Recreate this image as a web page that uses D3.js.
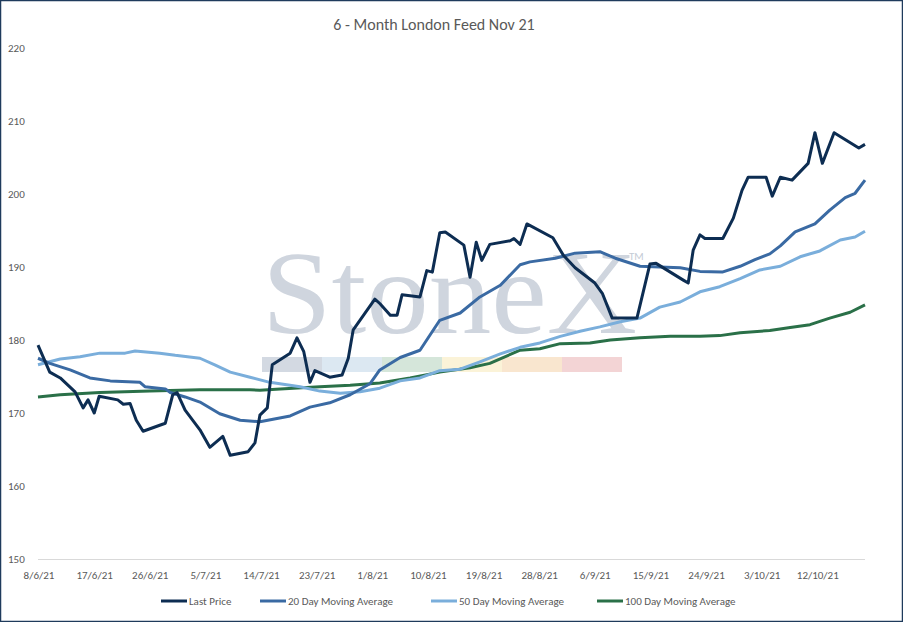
<!DOCTYPE html>
<html><head><meta charset="utf-8">
<script src="https://cdn.jsdelivr.net/npm/d3@7"></script>
<style>body{margin:0;background:#fff}text{font-family:Calibri,Carlito,"Open Sans",Arial,sans-serif}text.wm{font-family:"Liberation Serif","DejaVu Serif",serif}</style>
</head><body><svg id="c" width="903" height="622"></svg>
<script>
const startDate = "2021-06-08";
const xTickLabels = ["8/6/21","17/6/21","26/6/21","5/7/21","14/7/21","23/7/21","1/8/21","10/8/21","19/8/21","28/8/21","6/9/21","15/9/21","24/9/21","3/10/21","12/10/21"];
const yTicks = [150,160,170,180,190,200,210,220];
const lastDays = [0,1.9,3.6,6.0,7.3,8.1,9.1,9.9,12.9,13.8,14.9,15.9,17.0,20.6,21.8,22.5,23.8,26.2,27.8,29.9,31.1,34.0,35.1,35.9,37.1,37.9,40.8,41.9,43.0,44.0,44.8,47.2,49.2,50.2,51.0,54.5,55.3,57.0,58.1,58.9,61.8,62.9,63.8,65.0,65.9,68.9,69.9,70.9,71.8,73.1,76.4,77.0,78.0,79.1,83.3,85.0,86.9,90.1,91.3,92.9,96.9,99.0,100.0,104.4,105.2,106.0,107.1,107.9,110.8,112.5,113.9,114.9,117.8,118.8,120.1,122.0,124.6,125.7,126.9,128.8,132.8,133.8];
const lastPrice = [179.3,175.6,174.8,172.9,170.7,171.8,170.0,172.3,171.8,171.2,171.3,169.0,167.5,168.6,172.5,172.8,170.4,167.7,165.3,166.8,164.2,164.7,165.9,169.7,170.7,176.6,178.2,180.3,178.4,174.2,175.8,174.9,175.2,177.5,181.4,185.6,185.0,183.4,183.4,186.2,185.9,189.5,189.3,194.7,194.8,193.0,188.6,193.4,190.9,193.1,193.6,193.9,193.1,195.9,194.0,191.6,189.9,187.8,186.4,183.0,183.0,190.4,190.5,188.2,187.8,192.3,194.4,193.9,193.9,196.7,200.5,202.3,202.3,199.7,202.3,201.9,204.2,208.4,204.2,208.4,206.3,206.8];
const ma20Days = [0,1.9,5.2,8.4,11.7,16.5,17.3,20.6,21.4,23.8,26.2,29.4,32.7,35.9,40.8,44.0,47.2,50.5,53.7,55.3,58.6,61.8,65.0,68.3,71.5,74.8,78.0,79.6,83.7,86.9,90.9,93.4,97.4,100.6,103.9,107.1,110.7,113.6,116.0,118.4,120.1,122.5,125.7,128.1,130.6,132.2,133.8];
const ma20 = [177.5,176.8,175.9,174.8,174.4,174.2,173.6,173.3,172.8,172.2,171.5,169.9,169.0,168.8,169.6,170.8,171.4,172.5,174.0,175.9,177.6,178.6,182.7,183.7,185.9,187.5,190.3,190.7,191.2,191.9,192.1,191.2,190.1,190.0,189.9,189.4,189.3,190.1,191.0,191.8,192.9,194.8,195.9,197.8,199.5,200.1,201.9];
const ma50Days = [0,3.6,6.8,10.0,14.1,15.7,19.7,22.2,26.2,28.6,31.1,34.3,37.5,42.4,45.6,48.9,52.1,55.3,58.6,61.8,65.0,68.3,71.5,74.8,78.0,81.2,84.5,87.7,90.9,94.2,97.4,100.6,103.9,107.1,110.3,113.6,116.8,120.1,123.3,126.5,129.8,132.2,133.8];
const ma50 = [176.6,177.4,177.7,178.2,178.2,178.5,178.2,177.9,177.5,176.6,175.6,174.9,174.2,173.6,173.0,172.7,172.9,173.4,174.4,174.8,175.8,176.0,177.0,178.1,179.0,179.6,180.5,181.2,181.8,182.5,183.0,184.5,185.2,186.6,187.3,188.4,189.6,190.1,191.4,192.2,193.7,194.1,194.9];
const ma100Days = [0,3.6,10.0,18.1,26.2,34.3,35.9,39.2,45.6,50.5,55.3,60.2,65.0,69.9,73.1,78.0,81.2,84.5,89.3,92.6,97.4,102.3,107.1,110.3,113.6,118.4,121.7,124.9,128.1,131.4,133.8];
const ma100 = [172.2,172.5,172.8,173.0,173.2,173.2,173.1,173.3,173.6,173.8,174.1,174.8,175.6,176.2,176.8,178.6,178.8,179.5,179.6,180.0,180.3,180.5,180.5,180.6,181.0,181.3,181.7,182.1,183.0,183.8,184.8];
const seriesNames = ["Last Price","20 Day Moving Average","50 Day Moving Average","100 Day Moving Average"];
const colors = ["#0d2d52","#3a6aa3","#7aaedb","#2a7048"];

const svg = d3.select("#c");
const t0 = new Date(startDate+"T00:00:00");
const toDate = d => new Date(t0.getTime() + d*86400000);
const x = d3.scaleTime().domain([t0, toDate(133.8)]).range([38, 865]);
const y = d3.scaleLinear().domain([150,220]).range([559,48]);

svg.append("rect").attr("x",0.5).attr("y",0.5).attr("width",902).attr("height",621).attr("fill","#fff").attr("stroke","#1f3b5c").attr("stroke-width",1.5);
svg.append("text").attr("x",434).attr("y",30).attr("text-anchor","middle").attr("font-size",16).attr("fill","#595959").text("6 - Month London Feed Nov 21");

// watermark
svg.append("text").attr("class","wm").attr("x",262).attr("y",333).attr("font-size",118).attr("fill","#cfd5de").attr("textLength",375).attr("lengthAdjust","spacingAndGlyphs").text("StoneX");
svg.append("text").attr("x",629).attr("y",260).attr("font-size",11).attr("fill","#c5ccd6").text("TM");
const band = ["#d3d9e2","#dce8f2","#d5e6da","#fbf3d8","#f9e6cf","#f3d4d5"];
band.forEach((c,i)=>svg.append("rect").attr("x",262+i*60).attr("y",357).attr("width",60).attr("height",15).attr("fill",c));

yTicks.forEach(v=>svg.append("text").attr("x",8).attr("y",y(v)+4).attr("font-size",11).attr("fill","#595959").text(v));
svg.append("line").attr("x1",38).attr("x2",865).attr("y1",559.5).attr("y2",559.5).attr("stroke","#d9d9d9");
const pf = d3.timeParse("%d/%m/%y");
xTickLabels.forEach(l=>svg.append("text").attr("x",x(pf(l))+1).attr("y",579).attr("text-anchor","middle").attr("font-size",11).attr("fill","#595959").text(l));

const line = d3.line().x(d=>x(toDate(d[0]))).y(d=>y(d[1]));
const sets = [[ma100Days,ma100,3],[ma50Days,ma50,3],[ma20Days,ma20,3],[lastDays,lastPrice,3]];
const cidx=[3,2,1,0];
sets.forEach((s,i)=>svg.append("path").datum(d3.zip(s[0],s[1])).attr("d",line).attr("fill","none").attr("stroke",colors[cidx[i]]).attr("stroke-width",s[2]).attr("stroke-linejoin","round"));

const lx=[161,260,431,597];
seriesNames.forEach((n,i)=>{
 svg.append("line").attr("x1",lx[i]).attr("x2",lx[i]+26).attr("y1",601).attr("y2",601).attr("stroke",colors[i]).attr("stroke-width",3);
 svg.append("text").attr("x",lx[i]+28).attr("y",605).attr("font-size",11).attr("fill","#595959").text(n);
});
</script></body></html>
